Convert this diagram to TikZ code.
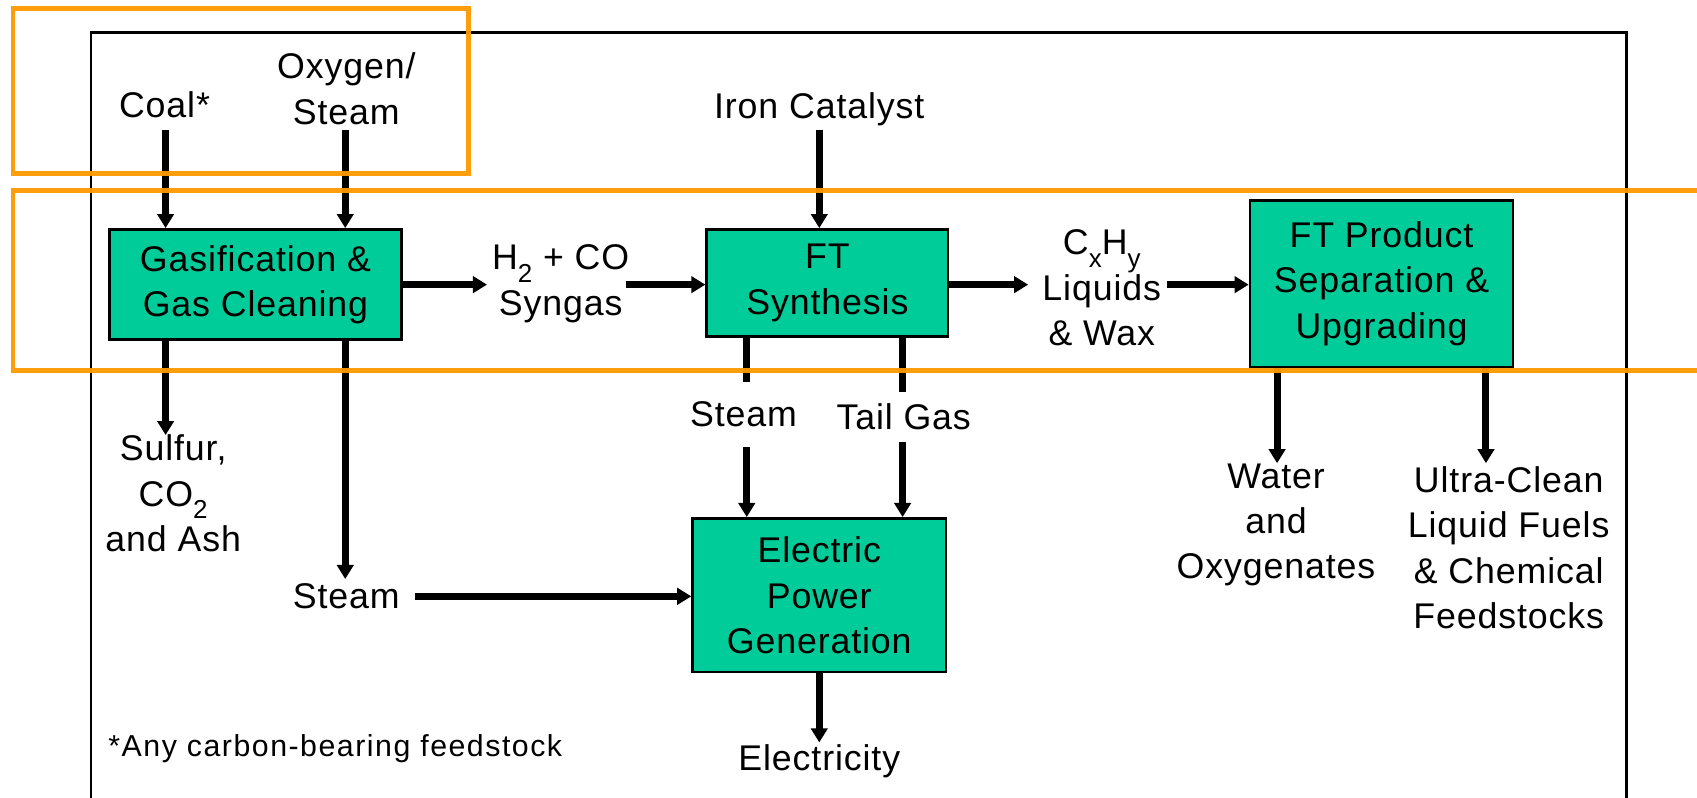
\documentclass[tikz,border=0pt]{standalone}
\usepackage{fontspec}
\setmainfont{Liberation Sans}[LetterSpace=2.5]
\usetikzlibrary{arrows.meta}
\definecolor{boxgreen}{HTML}{00CC99}
\definecolor{hl}{HTML}{FF9900}
\newcommand\mf{\fontsize{33}{42}\selectfont}
\newcommand\sbs[1]{\raisebox{-0.35em}{\fontsize{24}{24}\selectfont #1}}
\begin{document}
\begin{tikzpicture}[x=1pt,y=-1pt,
  proc/.style={draw=black, line width=2.5pt, fill=boxgreen, align=center, font=\mf, inner sep=0pt},
  lbl/.style={align=center, font=\mf, inner sep=0pt},
  arr/.style={line width=6.5pt, -{Triangle[width=15pt,length=13pt]}},
  hlbox/.style={draw=hl, line width=4.5pt, opacity=0.95}]
\useasboundingbox (0,0) rectangle (1568,737);
\fill[white] (0,0) rectangle (1568,737);
% frame
\draw[line width=2.5pt] (84,760) -- (84,30) -- (1503,30) -- (1503,760);
% process boxes
\node[proc, minimum width=270pt, minimum height=102pt] (gas) at (236,263) {Gasification \&\\Gas Cleaning};
\node[proc, minimum width=223pt, minimum height=99pt] (ft) at (764.5,261.5) {FT\\Synthesis};
\node[proc, minimum width=243pt, minimum height=154pt] (prod) at (1276.5,262) {FT Product\\Separation \&\\Upgrading};
\node[proc, minimum width=234pt, minimum height=142pt] (elec) at (757,550) {Electric\\Power\\Generation};
% labels
\node[lbl] (coal) at (152,97) {Coal*};
\node[lbl] (oxy) at (320,82) {Oxygen/\\Steam};
\node[lbl] (iron) at (757,101) {Iron Catalyst};
\node[lbl] (syn) at (518,262) {H\sbs{2} + CO\\Syngas};
\node[lbl] (liq) at (1018,266) {C\sbs{x}H\sbs{y}\\Liquids\\\& Wax};
\node[lbl] (sulf) at (160,456) {Sulfur,\\CO\sbs{2}\\and Ash};
\node[lbl] (stm1) at (320,551) {Steam};
\node[lbl] (elct) at (757,703) {Electricity};
\node[lbl] (water) at (1179,485) {Water\\and\\Oxygenates};
\node[lbl] (ultra) at (1394,506) {Ultra-Clean\\Liquid Fuels\\\& Chemical\\Feedstocks};
\node[lbl, anchor=west, font=\fontsize{28}{34}\selectfont\addfontfeature{LetterSpace=5}] (note) at (100,692) {*Any carbon-bearing feedstock};
% coordinates
\coordinate (c1) at (153,120);
\coordinate (o1) at (319,120);
\coordinate (i1) at (757,120);
\coordinate (s1) at (450,263);
\coordinate (s2) at (578,263);
\coordinate (l1) at (950,263);
\coordinate (l2) at (1078,263);
\coordinate (d1) at (153,402);
\coordinate (d2) at (319,535);
\coordinate (h1) at (383,551);
\coordinate (v1) at (690,0);
\coordinate (v2) at (834,0);
\coordinate (e1) at (757,686);
\coordinate (p1) at (1180,428);
\coordinate (p2) at (1373,428);
% connectors
\draw[arr] (c1) -- (c1 |- gas.north);
\draw[arr] (o1) -- (o1 |- gas.north);
\draw[arr] (i1) -- (i1 |- ft.north);
\draw[arr] (gas.east) -- (s1);
\draw[arr] (s2) -- (s2 -| ft.west);
\draw[arr] (l1 -| ft.east) -- (l1);
\draw[arr] (l2) -- (l2 -| prod.west);
\draw[arr] (d1 |- gas.south) -- (d1);
\draw[arr] (d2 |- gas.south) -- (d2);
\draw[arr] (h1) -- (h1 -| elec.west);
\draw[arr] (v1 |- ft.south) -- (v1 |- elec.north);
\draw[arr] (v2 |- ft.south) -- (v2 |- elec.north);
\draw[arr] (elec.south) -- (e1);
\draw[arr] (p1 |- prod.south) -- (p1);
\draw[arr] (p2 |- prod.south) -- (p2);
% labels over lines
\node[lbl, fill=white, minimum height=60pt, minimum width=110pt] (stm2) at (687,383) {Steam};
\node[lbl, fill=white, minimum height=46pt, minimum width=150pt] (tail) at (835,385) {Tail Gas};
% highlight boxes
\draw[hlbox] (12,8) rectangle (433,160);
\draw[hlbox] (12,176) rectangle (1600,342);
\end{tikzpicture}
\end{document}
